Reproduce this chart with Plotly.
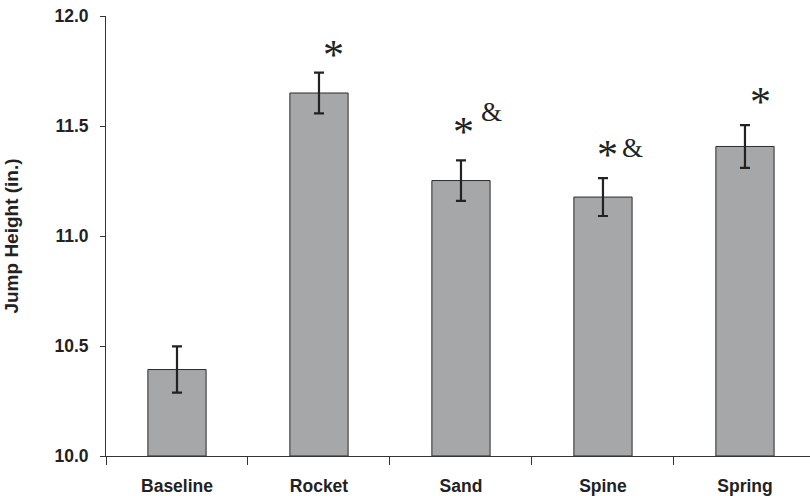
import plotly.graph_objects as go

categories = ["Baseline", "Rocket", "Sand", "Spine", "Spring"]
means = [10.393, 11.650, 11.252, 11.177, 11.407]
errors = [0.105, 0.093, 0.092, 0.086, 0.097]
y_ticks = [10.0, 10.5, 11.0, 11.5, 12.0]
y_tick_labels = ["10.0", "10.5", "11.0", "11.5", "12.0"]
# significance marks: (category index, text, x pixel shift, y pixel shift above error bar top)
marks = [
    (1, "*", 15, 18),
    (2, "*", 3, 28),
    (2, "&", 31, 48),
    (3, "*", 5, 23),
    (3, "&", 30, 30),
    (4, "*", 16, 23),
]

fig = go.Figure()
fig.add_trace(go.Bar(
    x=list(range(len(categories))),
    y=[m - 10.0 for m in means],
    base=10.0,
    width=0.41,
    marker=dict(color="#a6a7a9", line=dict(color="#2b2b2b", width=1)),
    error_y=dict(type="data", array=errors, visible=True, color="#222222",
                 thickness=2.2, width=5),
    hoverinfo="skip",
))

for idx, txt, xs, ys in marks:
    fig.add_annotation(
        x=idx, y=means[idx] + errors[idx], xref="x", yref="y",
        text=txt, showarrow=False, xshift=xs, yshift=ys,
        xanchor="center", yanchor="middle",
        font=dict(family="Liberation Serif", size=42 if txt == "*" else 27, color="#222222"),
    )

fig.update_layout(
    width=810, height=496,
    margin=dict(l=106, r=0, t=16, b=40),
    paper_bgcolor="white", plot_bgcolor="white",
    showlegend=False,
    font=dict(family="Liberation Sans", size=17.5, color="#222222"),
)
fig.update_xaxes(
    range=[-0.5, 4.458],
    tickmode="array",
    tickvals=list(range(len(categories))),
    ticktext=categories,
    showline=True, linecolor="#333333", linewidth=1,
    ticks="outside", ticklen=14, tickcolor="rgba(0,0,0,0)",
    showgrid=False, zeroline=False,
    tickfont=dict(family="Liberation Sans", size=17.5, color="#222222", weight="bold"),
)
fig.update_xaxes(minor=dict(tickmode="array", tickvals=[-0.5, 0.5, 1.5, 2.5, 3.5],
                            ticks="outside", ticklen=8, tickcolor="#333333", tickwidth=1, showgrid=False))
fig.update_yaxes(
    range=[10.0, 12.0],
    tickmode="array", tickvals=y_ticks, ticktext=y_tick_labels,
    ticks="outside", ticklen=5, tickcolor="#333333", tickwidth=1,
    ticklabelstandoff=8,
    showline=True, linecolor="#333333", linewidth=1,
    showgrid=False, zeroline=False,
    tickfont=dict(family="Liberation Sans", size=17.5, color="#222222", weight="bold"),
    title=dict(text="<b>Jump Height (in.)</b>", font=dict(family="Liberation Sans", size=19, color="#222222"), standoff=30),
)

fig.write_html("out.html")
